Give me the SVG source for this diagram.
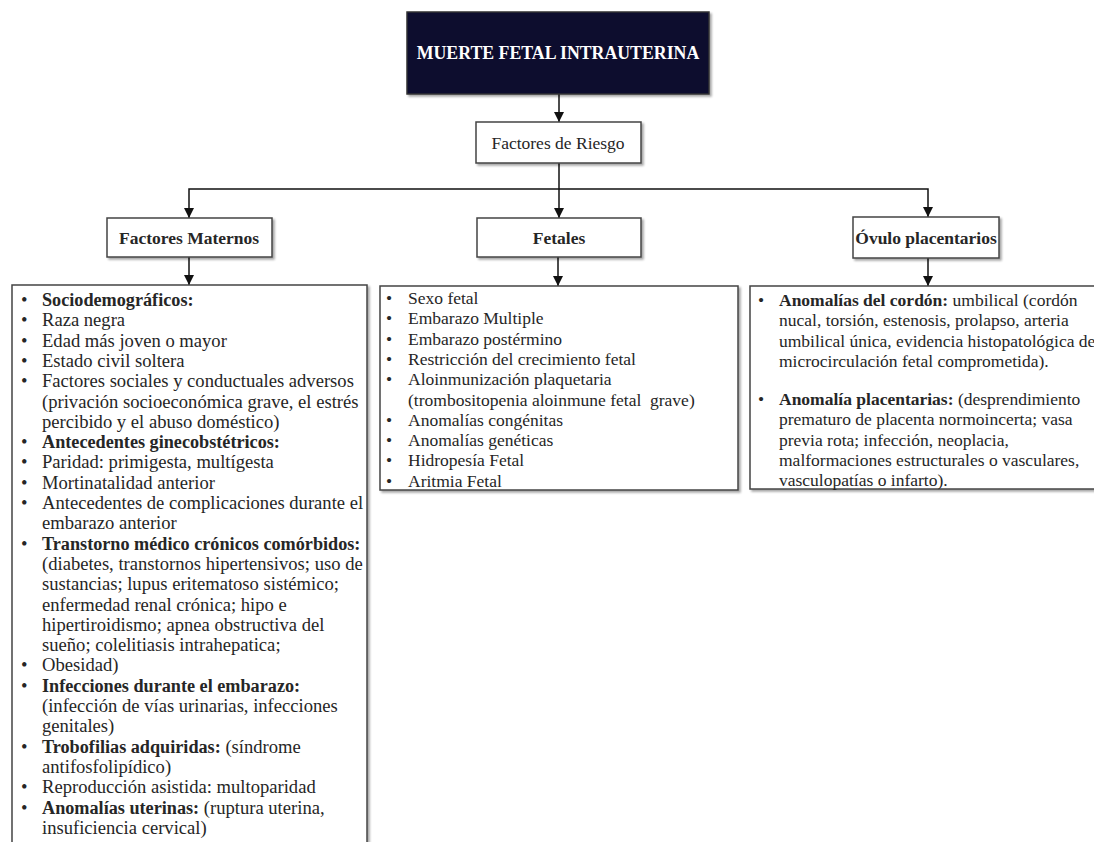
<svg xmlns="http://www.w3.org/2000/svg" width="1094" height="842" viewBox="0 0 1094 842">
<defs>
<filter id="sh" x="-10%" y="-10%" width="130%" height="130%">
<feDropShadow dx="2" dy="2" stdDeviation="1.2" flood-color="#000" flood-opacity="0.35"/>
</filter>
<marker id="ah" viewBox="0 0 10 10" refX="10" refY="5" markerWidth="10" markerHeight="10" markerUnits="userSpaceOnUse" orient="auto">
<path d="M0,0 L10,5 L0,10 Z" fill="#111"/>
</marker>
<style>
.box{fill:#fff;stroke:#444;stroke-width:1.5;filter:url(#sh)}
.t{font-family:"Liberation Serif","Times New Roman",serif;font-size:17.5px;fill:#262626}
.lg{font-size:18.6px}
.lg .b{font-size:18.2px}
.b{font-weight:bold}
.c{text-anchor:middle}
.con{stroke:#111;stroke-width:1.5;fill:none}
</style>
</defs>
<rect width="1094" height="842" fill="#fff"/>

<g id="connectors">
<line class="con" x1="559" y1="94" x2="559" y2="122" marker-end="url(#ah)"/>
<line class="con" x1="559" y1="163" x2="559" y2="218" marker-end="url(#ah)"/>
<polyline class="con" points="559,189 189,189 189,218" marker-end="url(#ah)"/>
<polyline class="con" points="559,189 928,189 928,217" marker-end="url(#ah)"/>
<line class="con" x1="189" y1="257" x2="189" y2="285" marker-end="url(#ah)"/>
<line class="con" x1="558" y1="257" x2="558" y2="286" marker-end="url(#ah)"/>
<line class="con" x1="928" y1="258" x2="928" y2="286" marker-end="url(#ah)"/>
</g>

<g id="title">
<rect x="407" y="12" width="302" height="82" fill="#07072f" stroke="#333" stroke-width="1.5" filter="url(#sh)"/>
<text class="t b c" x="558" y="59" style="fill:#fff;font-size:17.8px">MUERTE FETAL INTRAUTERINA</text>
</g>

<g id="factores-riesgo">
<rect class="box" x="476" y="122" width="165" height="41"/>
<text class="t c" x="558" y="149">Factores de Riesgo</text>
</g>

<g id="factores-maternos">
<rect class="box" x="107" y="218" width="165" height="39"/>
<text class="t b c" x="189" y="244">Factores Maternos</text>
</g>

<g id="fetales">
<rect class="box" x="477" y="218" width="164" height="39"/>
<text class="t b c" x="559" y="244">Fetales</text>
</g>

<g id="ovulo-placentarios">
<rect class="box" x="853" y="217" width="146" height="41"/>
<text class="t b c" x="926" y="244">Óvulo placentarios</text>
</g>

<g id="lista-maternos">
<rect class="box" x="12" y="285" width="355" height="620"/>
<g class="t lg">
<text x="21" y="306">•</text><text x="42" y="306" class="b">Sociodemográficos:</text>
<text x="21" y="326.3">•</text><text x="42" y="326.3">Raza negra</text>
<text x="21" y="346.6">•</text><text x="42" y="346.6">Edad más joven o mayor</text>
<text x="21" y="366.9">•</text><text x="42" y="366.9">Estado civil soltera</text>
<text x="21" y="387.2">•</text><text x="42" y="387.2">Factores sociales y conductuales adversos</text>
<text x="42" y="407.5">(privación socioeconómica grave, el estrés</text>
<text x="42" y="427.8">percibido y el abuso doméstico)</text>
<text x="21" y="448.1">•</text><text x="42" y="448.1" class="b">Antecedentes ginecobstétricos:</text>
<text x="21" y="468.4">•</text><text x="42" y="468.4">Paridad: primigesta, multígesta</text>
<text x="21" y="488.7">•</text><text x="42" y="488.7">Mortinatalidad anterior</text>
<text x="21" y="509">•</text><text x="42" y="509">Antecedentes de complicaciones durante el</text>
<text x="42" y="529.3">embarazo anterior</text>
<text x="21" y="549.6">•</text><text x="42" y="549.6" class="b">Transtorno médico crónicos comórbidos:</text>
<text x="42" y="569.9">(diabetes, transtornos hipertensivos; uso de</text>
<text x="42" y="590.2">sustancias; lupus eritematoso sistémico;</text>
<text x="42" y="610.5">enfermedad renal crónica; hipo e</text>
<text x="42" y="630.8">hipertiroidismo; apnea obstructiva del</text>
<text x="42" y="651.1">sueño; colelitiasis intrahepatica;</text>
<text x="21" y="671.4">•</text><text x="42" y="671.4">Obesidad)</text>
<text x="21" y="691.7">•</text><text x="42" y="691.7" class="b">Infecciones durante el embarazo:</text>
<text x="42" y="712">(infección de vías urinarias, infecciones</text>
<text x="42" y="732.3">genitales)</text>
<text x="21" y="752.6">•</text><text x="42" y="752.6"><tspan class="b">Trobofilias adquiridas:</tspan> (síndrome</text>
<text x="42" y="772.9">antifosfolipídico)</text>
<text x="21" y="793.2">•</text><text x="42" y="793.2">Reproducción asistida: multoparidad</text>
<text x="21" y="813.5">•</text><text x="42" y="813.5"><tspan class="b">Anomalías uterinas:</tspan> (ruptura uterina,</text>
<text x="42" y="833.8">insuficiencia cervical)</text>
</g>
</g>

<g id="lista-fetales">
<rect class="box" x="380" y="286" width="358" height="204"/>
<g class="t">
<text x="386" y="304">•</text><text x="408" y="304">Sexo fetal</text>
<text x="386" y="324.3">•</text><text x="408" y="324.3">Embarazo Multiple</text>
<text x="386" y="344.6">•</text><text x="408" y="344.6">Embarazo postérmino</text>
<text x="386" y="364.9">•</text><text x="408" y="364.9">Restricción del crecimiento fetal</text>
<text x="386" y="385.2">•</text><text x="408" y="385.2">Aloinmunización plaquetaria</text>
<text x="408" y="405.5" xml:space="preserve">(trombositopenia aloinmune fetal  grave)</text>
<text x="386" y="425.8">•</text><text x="408" y="425.8">Anomalías congénitas</text>
<text x="386" y="446.1">•</text><text x="408" y="446.1">Anomalías genéticas</text>
<text x="386" y="466.4">•</text><text x="408" y="466.4">Hidropesía Fetal</text>
<text x="386" y="486.7">•</text><text x="408" y="486.7">Aritmia Fetal</text>
</g>
</g>

<g id="lista-ovulo">
<rect class="box" x="750" y="286" width="400" height="203"/>
<g class="t">
<text x="758" y="306">•</text><text x="779" y="306"><tspan class="b">Anomalías del cordón:</tspan> umbilical (cordón</text>
<text x="779" y="326.3">nucal, torsión, estenosis, prolapso, arteria</text>
<text x="779" y="346.6">umbilical única, evidencia histopatológica de</text>
<text x="779" y="366.9">microcirculación fetal comprometida).</text>
<text x="758" y="405">•</text><text x="779" y="405"><tspan class="b">Anomalía placentarias:</tspan> (desprendimiento</text>
<text x="779" y="425.3">prematuro de placenta normoincerta; vasa</text>
<text x="779" y="445.6">previa rota; infección, neoplacia,</text>
<text x="779" y="465.9">malformaciones estructurales o vasculares,</text>
<text x="779" y="486.2">vasculopatías o infarto).</text>
</g>
</g>
</svg>
